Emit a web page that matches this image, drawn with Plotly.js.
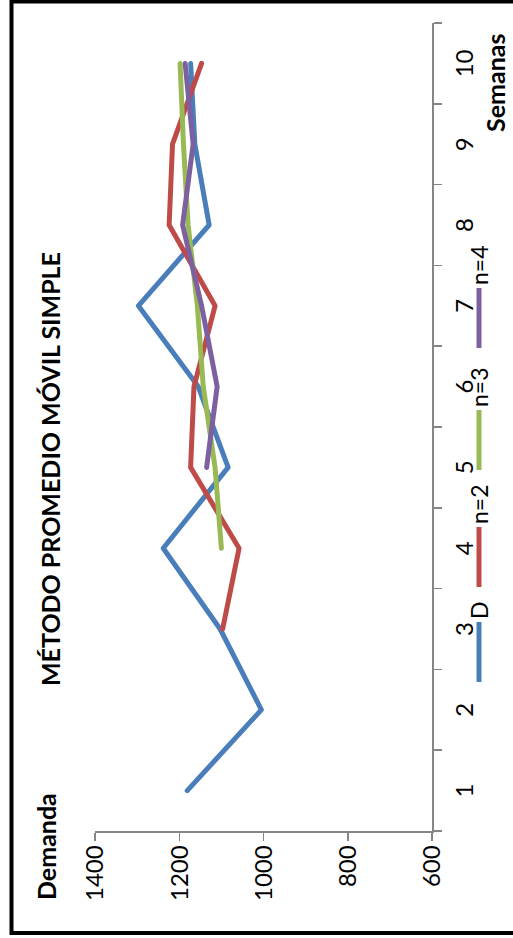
<!DOCTYPE html>
<html><head><meta charset="utf-8">
<script src="https://cdn.plot.ly/plotly-3.0.1.min.js"></script>
<style>
html,body{margin:0;padding:0;width:513px;height:938px;overflow:hidden;background:#fff;}
#wrap{position:absolute;left:0;top:0;width:938px;height:513px;transform-origin:0 0;transform:translate(0px,938px) rotate(-90deg);}
#chart{width:938px;height:513px;}
#chart .scatterlayer path.js-line{stroke-linejoin:round;stroke-linecap:round;}
</style></head><body>
<div id="wrap"><div id="chart"></div></div>
<script>
const semanas = ['1','2','3','4','5','6','7','8','9','10'];
const demanda = [1181,1005,1103,1238,1084,1155,1297,1129,1163,1173];
const n2 = [null,null,1097,1058,1173,1165,1115,1224,1216,1147];
const n3 = [null,null,null,1100,1115,1143,1157,1179,1190,1198];
const n4 = [null,null,null,null,1135,1110,1147,1192,1167,1186];
const seriesNames = ['D','n=2','n=3','n=4'];
const seriesColors = ['#4A7EBB','#BE4B48','#98B954','#7D60A0'];
const seriesData = [demanda,n2,n3,n4];

const FONT = 'Lato, "Open Sans", sans-serif';
// plot-area geometry (unrotated px)
const PL = 107, PR = 915, PT = 95, PB = 432;
const px2x = ux => (ux - PL) / (PR - PL);
const px2y = uy => (PB - uy) / (PB - PT);
const legendStart = [256, 351, 468, 590];
const legendLineLen = 60;
const legendY = 479;

const traces = seriesData.map((ys,i)=>({
  type:'scatter', mode:'lines', x:semanas, y:ys, name:seriesNames[i],
  line:{color:seriesColors[i], width:5},
  connectgaps:false, hoverinfo:'skip', showlegend:false
}));

const shapes = [
  {type:'rect', xref:'paper', yref:'paper', x0:px2x(5), x1:px2x(936.5), y0:px2y(560), y1:px2y(11.5),
   line:{color:'#000', width:4}, fillcolor:'rgba(0,0,0,0)', layer:'above'}
];
const annotations = [
  {text:'<b>Demanda</b>', xref:'paper', yref:'paper', x:px2x(91.5), y:px2y(46), xanchor:'center', yanchor:'middle', showarrow:false, font:{size:25, family:FONT, color:'#000'}},
  {text:'<b>Semanas</b>', xref:'paper', yref:'paper', x:px2x(854.5), y:px2y(495), xanchor:'center', yanchor:'middle', showarrow:false, font:{size:25, family:FONT, color:'#000'}}
];
seriesNames.forEach((nm,i)=>{
  shapes.push({type:'line', xref:'paper', yref:'paper',
    x0:px2x(legendStart[i]), x1:px2x(legendStart[i]+legendLineLen), y0:px2y(legendY), y1:px2y(legendY),
    line:{color:seriesColors[i], width:5}, layer:'above'});
  annotations.push({text:nm, xref:'paper', yref:'paper', x:px2x(legendStart[i]+legendLineLen+1), y:px2y(legendY),
    xanchor:'left', yanchor:'middle', showarrow:false, font:{size:23, family:FONT, color:'#000'}});
});

const layout = {
  width:938, height:513,
  margin:{l:PL, r:938-PR, t:PT, b:513-PB},
  paper_bgcolor:'#fff', plot_bgcolor:'#fff',
  font:{family:FONT, color:'#000', size:22},
  title:{text:'<b>MÉTODO PROMEDIO MÓVIL SIMPLE</b>', font:{size:25, family:FONT, color:'#000'},
    xref:'container', x:0.5, xanchor:'center', yref:'container', y:0.9, yanchor:'middle'},
  xaxis:{type:'category', range:[-0.5,9.5], tickson:'boundaries', ticks:'outside', ticklen:8, tickcolor:'#868686', tickwidth:1.5,
    showline:true, linecolor:'#868686', linewidth:1.5, showgrid:false, zeroline:false, ticklabelstandoff:11,
    tickfont:{size:24, family:FONT, color:'#000'}},
  yaxis:{range:[600,1400], tick0:600, dtick:200, ticks:'outside', ticklen:8, tickcolor:'#868686', tickwidth:1.5,
    showline:true, linecolor:'#868686', linewidth:1.5, showgrid:false, zeroline:false,
    tickfont:{size:24, family:FONT, color:'#000'}},
  showlegend:false,
  annotations:annotations,
  shapes:shapes
};

Plotly.newPlot('chart', traces, layout, {displayModeBar:false, staticPlot:true});
</script>
</body></html>
